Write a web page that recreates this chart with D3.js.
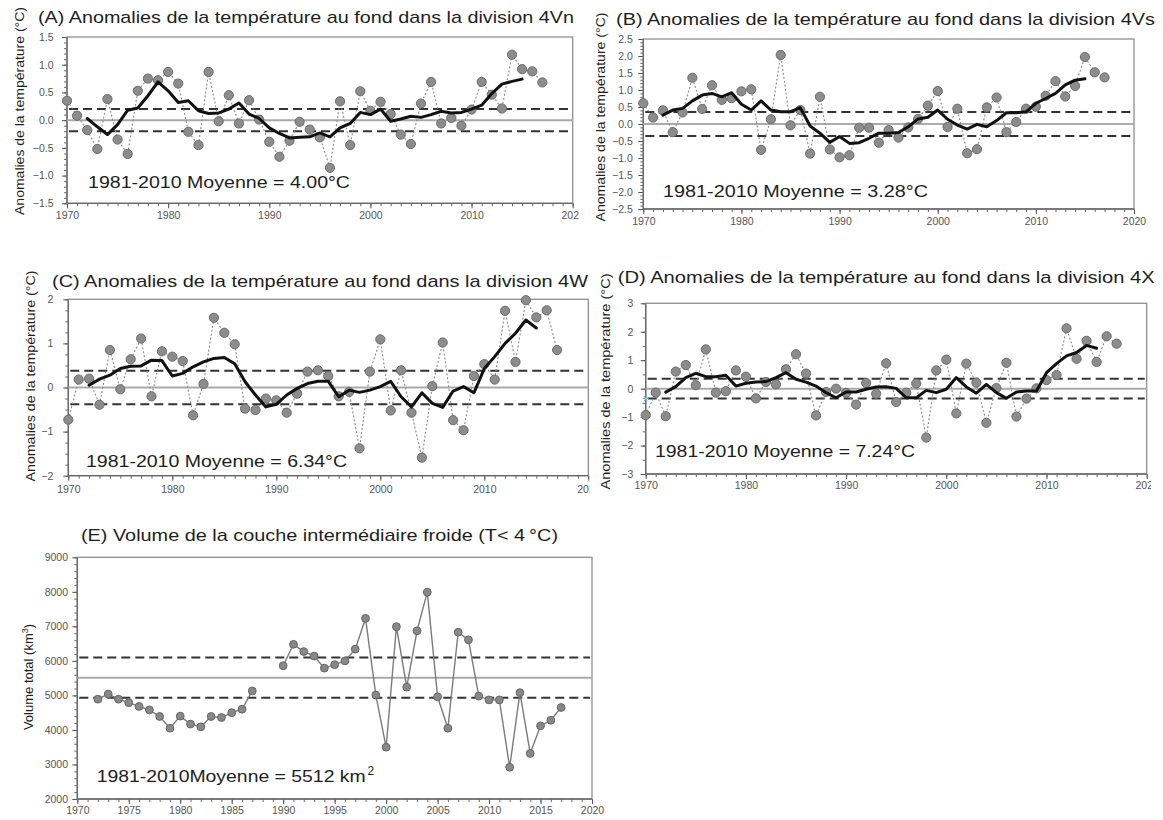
<!DOCTYPE html>
<html><head><meta charset="utf-8">
<script src="https://cdn.jsdelivr.net/npm/d3@7"></script>
<style>body{margin:0;background:#fff;} svg{display:block;font-family:"Liberation Sans",Arial,sans-serif;}</style>
</head><body><svg id="c" width="1163" height="820"></svg>
<script>
// ---------- DATA ----------
const years = [1970,1971,1972,1973,1974,1975,1976,1977,1978,1979,1980,1981,1982,1983,1984,1985,1986,1987,1988,1989,1990,1991,1992,1993,1994,1995,1996,1997,1998,1999,2000,2001,2002,2003,2004,2005,2006,2007,2008,2009,2010,2011,2012,2013,2014,2015,2016,2017];
const smoothYears = [1972,1973,1974,1975,1976,1977,1978,1979,1980,1981,1982,1983,1984,1985,1986,1987,1988,1989,1990,1991,1992,1993,1994,1995,1996,1997,1998,1999,2000,2001,2002,2003,2004,2005,2006,2007,2008,2009,2010,2011,2012,2013,2014,2015];

const anomA = [0.35,0.08,-0.18,-0.52,0.38,-0.35,-0.61,0.53,0.75,0.72, 0.87,0.66,-0.21,-0.45,0.87,-0.02,0.45,-0.06,0.36,0.01, -0.39,-0.66,-0.37,-0.03,-0.17,-0.31,-0.86,0.34,-0.45,0.52, 0.17,0.33,0.11,-0.26,-0.43,0.30,0.69,-0.06,0.04,-0.10, 0.19,0.69,0.46,0.21,1.18,0.92,0.88,0.68];
const smoothA = [0.03,-0.12,-0.26,-0.08,0.18,0.22,0.44,0.69,0.53,0.32, 0.35,0.17,0.12,0.13,0.20,0.31,0.11,0.03,-0.14,-0.24, -0.32,-0.31,-0.30,-0.23,-0.30,-0.14,-0.06,0.14,0.10,0.20, -0.02,0.02,0.07,0.05,0.10,0.16,0.13,0.14,0.20,0.27, 0.48,0.65,0.70,0.74];

const anomB = [0.61,0.19,0.40,-0.24,0.34,1.36,0.44,1.14,0.71,0.76, 0.96,1.02,-0.76,0.14,2.03,-0.04,0.41,-0.87,0.80,-0.75, -0.98,-0.92,-0.11,-0.11,-0.55,-0.18,-0.40,-0.10,0.15,0.54, 0.97,-0.09,0.45,-0.86,-0.74,0.49,0.78,-0.24,0.06,0.45, 0.51,0.83,1.26,0.81,1.12,1.97,1.52,1.37];
const smoothB = [0.26,0.41,0.46,0.68,0.85,0.90,0.80,0.92,0.58,0.41, 0.68,0.41,0.36,0.36,0.48,-0.06,-0.27,-0.54,-0.37,-0.57, -0.55,-0.42,-0.27,-0.27,-0.25,-0.08,0.15,0.20,0.41,0.14, -0.03,-0.15,-0.01,-0.08,0.10,0.33,0.33,0.36,0.61,0.75, 0.90,1.15,1.29,1.33];

const anomC = [-0.73,0.18,0.20,-0.39,0.85,-0.04,0.64,1.11,-0.20,0.82, 0.70,0.60,-0.63,0.08,1.58,1.24,0.98,-0.48,-0.51,-0.25, -0.29,-0.57,-0.14,0.36,0.39,0.26,-0.20,-0.10,-1.38,0.36, 1.09,-0.52,0.39,-0.57,-1.59,0.03,1.02,-0.74,-0.97,0.26, 0.53,0.18,1.74,0.58,1.98,1.59,1.75,0.85];
const smoothC = [0.05,0.19,0.28,0.43,0.48,0.49,0.62,0.61,0.26,0.32, 0.47,0.58,0.66,0.68,0.54,0.13,-0.17,-0.44,-0.38,-0.17, -0.02,0.09,0.14,0.14,-0.21,-0.06,-0.11,-0.06,0.02,0.14, -0.21,-0.44,-0.12,-0.36,-0.45,-0.08,0.02,-0.12,0.43,0.70, 1.00,1.23,1.53,1.35];

const anomD = [-0.93,-0.14,-0.97,0.60,0.83,0.12,1.38,-0.14,-0.09,0.64, 0.42,-0.34,0.23,0.15,0.68,1.21,0.53,-0.94,-0.12,0.00, -0.15,-0.56,0.20,-0.18,0.89,-0.47,-0.14,0.18,-1.72,0.64, 1.02,-0.87,0.88,0.21,-1.20,0.02,0.91,-0.98,-0.35,0.01, 0.30,0.48,2.12,1.05,1.68,0.94,1.84,1.58];
const smoothD = [-0.12,0.07,0.39,0.54,0.42,0.42,0.47,0.09,0.19,0.23, 0.25,0.39,0.56,0.33,0.23,0.09,-0.14,-0.32,-0.12,-0.12, -0.02,0.06,0.07,0.01,-0.32,-0.32,-0.06,-0.14,-0.02,0.39, 0.06,-0.16,0.15,-0.14,-0.34,-0.12,-0.08,-0.08,0.56,0.88, 1.15,1.27,1.52,1.42];

// CIL volume (km3), null = no data
const volE = [null,null,4890,5040,4890,4790,4680,4580,4390,4050, 4400,4170,4090,4390,4360,4500,4600,5130,null,null, 5860,6480,6270,6140,5790,5890,6000,6340,7230,5010, 3500,6990,5240,6870,7990,4960,4050,6830,6610,4980, 4870,4870,2920,5080,3320,4120,4280,4650];

// bands (±0.5 SD) and means
const bandA = [-0.2, 0.2], bandB = [-0.35, 0.35], bandC = [-0.38, 0.38], bandD = [-0.35, 0.35];
const meanE = 5512, bandE = [4935, 6095];

// tick labels
const xTicksDecade = [1970,1980,1990,2000,2010,2020];
const xTicksE = [1970,1975,1980,1985,1990,1995,2000,2005,2010,2015,2020];
const yTicksA = [-1.5,-1.0,-0.5,0.0,0.5,1.0,1.5];
const yTicksB = [-2.5,-2.0,-1.5,-1.0,-0.5,0.0,0.5,1.0,1.5,2.0,2.5];
const yTicksC = [-2,-1,0,1,2];
const yTicksD = [-3,-2,-1,0,1,2,3];
const yTicksE = [2000,3000,4000,5000,6000,7000,8000,9000];

const titles = {
  A: "(A) Anomalies de la température au fond dans la division 4Vn",
  B: "(B) Anomalies de la température au fond dans la division 4Vs",
  C: "(C) Anomalies de la température au fond dans la division 4W",
  D: "(D)  Anomalies de la température au fond dans la division 4X",
  E: "(E) Volume de la couche intermédiaire froide (T< 4\u202F°C)"
};
const meanLabels = {
  A: "1981-2010 Moyenne = 4.00°C",
  B: "1981-2010  Moyenne = 3.28°C",
  C: "1981-2010 Moyenne = 6.34°C",
  D: "1981-2010 Moyenne = 7.24°C",
  E: "1981-2010Moyenne = 5512 km"
};
const yTitle = "Anomalies de la température (°C)";

// ---------- DRAW ----------
const svg = d3.select('#c');
const defs = svg.append('defs');
const TXT = '#1e1e1e', TICK = '#555';

function panel(c){
  const g = svg.append('g');
  if (c.clipX){
    defs.append('clipPath').attr('id','clip'+c.id).append('rect')
      .attr('x',0).attr('y',0).attr('width',c.clipX).attr('height',820);
    g.attr('clip-path',`url(#clip${c.id})`);
  }
  const x = d3.scaleLinear().domain([1970,2020]).range([c.l,c.r]);
  const y = d3.scaleLinear().domain(c.yDomain).range([c.b,c.t]);

  // minor ticks
  const yMinor = d3.range(c.yDomain[0], c.yDomain[1]+1e-9, c.yMinor);
  g.append('g').attr('transform',`translate(${c.l},0)`)
    .call(d3.axisLeft(y).tickValues(yMinor).tickSize(3).tickFormat(''))
    .call(s=>{s.select('.domain').remove(); s.selectAll('line').attr('stroke','#666');});
  const xMinor = d3.range(1970, 2021, 1);
  g.append('g').attr('transform',`translate(0,${c.b})`)
    .call(d3.axisBottom(x).tickValues(xMinor).tickSize(3).tickFormat(''))
    .call(s=>{s.select('.domain').remove(); s.selectAll('line').attr('stroke','#666');});

  // major axes
  const fs = 10.5;
  g.append('g').attr('transform',`translate(${c.l},0)`)
    .call(d3.axisLeft(y).tickValues(c.yTicks).tickSize(5).tickPadding(c.yGap-5).tickFormat(c.yFmt))
    .call(s=>{s.select('.domain').remove(); s.selectAll('line').attr('stroke','#555');
      s.selectAll('text').attr('fill',TICK).attr('font-size',fs).attr('font-family','Liberation Sans, Arial, sans-serif');});
  g.append('g').attr('transform',`translate(0,${c.b})`)
    .call(d3.axisBottom(x).tickValues(c.xTicks).tickSize(5).tickPadding(c.xOff-5-0.71*fs).tickFormat(d3.format('d')))
    .call(s=>{s.select('.domain').remove(); s.selectAll('line').attr('stroke','#555');
      s.selectAll('text').attr('fill',TICK).attr('font-size',fs).attr('font-family','Liberation Sans, Arial, sans-serif');});

  // frame
  g.append('rect').attr('x',c.l).attr('y',c.t).attr('width',c.r-c.l).attr('height',c.b-c.t)
    .attr('fill','none').attr('stroke','#8f8f8f').attr('stroke-width',1.3);
  g.append('line').attr('x1',c.l).attr('x2',c.l).attr('y1',c.t).attr('y2',c.b).attr('stroke','#666').attr('stroke-width',1.3);
  g.append('line').attr('x1',c.l).attr('x2',c.r).attr('y1',c.b).attr('y2',c.b).attr('stroke','#666').attr('stroke-width',1.3);

  // reference line
  g.append('line').attr('x1',c.l).attr('x2',c.r).attr('y1',y(c.ref)).attr('y2',y(c.ref))
    .attr('stroke','#aaaaaa').attr('stroke-width',2);
  c.band.forEach(v=>{
    g.append('line').attr('x1',c.l+2).attr('x2',c.r-2).attr('y1',y(v)).attr('y2',y(v))
      .attr('stroke','#333').attr('stroke-width',2).attr('stroke-dasharray','9,5');
  });

  // series
  const pts = years.map((yr,i)=>({yr, v:c.values[i]}));
  const line = d3.line().defined(d=>d.v!==null).x(d=>x(d.yr)).y(d=>y(d.v));
  if (c.kind === 'anom'){
    g.append('path').attr('d',line(pts)).attr('fill','none').attr('stroke','#8a8a8a')
      .attr('stroke-width',1.1).attr('stroke-dasharray','2,2');
    g.selectAll('circle.p').data(pts).join('circle').attr('cx',d=>x(d.yr)).attr('cy',d=>y(d.v))
      .attr('r',4.6).attr('fill','#8c8c8c').attr('stroke','#6b6b6b').attr('stroke-width',1);
    const sp = smoothYears.map((yr,i)=>({yr, v:c.smooth[i]}));
    g.append('path').attr('d',line(sp)).attr('fill','none').attr('stroke','#111')
      .attr('stroke-width',3).attr('stroke-linejoin','round').attr('stroke-linecap','round');
  } else {
    g.append('path').attr('d',line(pts)).attr('fill','none').attr('stroke','#7a7a7a').attr('stroke-width',1.4);
    g.selectAll('circle.p').data(pts.filter(d=>d.v!==null)).join('circle').attr('cx',d=>x(d.yr)).attr('cy',d=>y(d.v))
      .attr('r',3.9).attr('fill','#888').attr('stroke','#666').attr('stroke-width',1);
  }

  // texts (unclipped)
  const t = svg.append('g');
  t.append('text').attr('x',c.title[0]).attr('y',c.title[1]).attr('font-size',17).attr('fill',TXT)
    .attr('textLength',c.title[2]).attr('lengthAdjust','spacingAndGlyphs').text(titles[c.id]);
  t.append('text').attr('x',c.mean[0]).attr('y',c.mean[1]).attr('font-size',17).attr('fill',TXT)
    .attr('textLength',c.mean[2]).attr('lengthAdjust','spacingAndGlyphs').text(meanLabels[c.id]);
  if (c.id !== 'E'){
    t.append('text').attr('transform',`translate(${c.ylab[0]},${c.ylab[1]}) rotate(-90)`)
      .attr('text-anchor','middle').attr('font-size',13.5).attr('fill',TXT)
      .attr('textLength',c.ylab[2]).attr('lengthAdjust','spacingAndGlyphs').text(yTitle);
  }
  return {g,t,x,y};
}

const pA = panel({id:'A', kind:'anom', l:67, r:572.7, t:37, b:203.3, yDomain:[-1.5,1.5], yTicks:yTicksA, yMinor:0.1,
  yFmt:d3.format('.1f'), yGap:13.5, xTicks:xTicksDecade, xOff:16, values:anomA, smooth:smoothA, ref:0, band:bandA,
  title:[38,23,536], mean:[88,188,262], ylab:[23.5,111,208], clipX:579});
const pB = panel({id:'B', kind:'anom', l:643.3, r:1134, t:39, b:209, yDomain:[-2.5,2.5], yTicks:yTicksB, yMinor:0.1,
  yFmt:d3.format('.1f'), yGap:10.5, xTicks:xTicksDecade, xOff:16, values:anomB, smooth:smoothB, ref:0, band:bandB,
  title:[616,25,539], mean:[663,197,265], ylab:[605,117,209]});
const pC = panel({id:'C', kind:'anom', l:68.3, r:588.3, t:299.3, b:475.7, yDomain:[-2,2], yTicks:yTicksC, yMinor:0.25,
  yFmt:d3.format('d'), yGap:15, xTicks:xTicksDecade, xOff:17.5, values:anomC, smooth:smoothC, ref:0, band:bandC,
  title:[52,286.5,536], mean:[86,466.5,261], ylab:[35,376,211], clipX:589.5});
const pD = panel({id:'D', kind:'anom', l:645.7, r:1146.7, t:303.3, b:474, yDomain:[-3,3], yTicks:yTicksD, yMinor:0.5,
  yFmt:d3.format('d'), yGap:12.4, xTicks:xTicksDecade, xOff:14.5, values:anomD, smooth:smoothD, ref:0, band:bandD,
  title:[617.7,283,537], mean:[655,457,260], ylab:[610,381.5,216], clipX:1151});
const pE = panel({id:'E', kind:'vol', l:77.3, r:592, t:557.3, b:799, yDomain:[2000,9000], yTicks:yTicksE, yMinor:200,
  yFmt:d3.format('d'), yGap:9.3, xTicks:xTicksE, xOff:15, values:volE, ref:meanE, band:bandE,
  title:[81,541,477], mean:[96.7,781.5,269]});

// extra pieces of E text: superscripts
pE.t.append('text').attr('x',367.5).attr('y',774.5).attr('font-size',12).attr('fill',TXT).text('2');
const yl = pE.t.append('text').attr('transform','translate(33,677) rotate(-90)').attr('text-anchor','middle')
  .attr('font-size',13).attr('fill',TXT);
yl.append('tspan').text('Volume total (km');
yl.append('tspan').attr('font-size',9).attr('dy',-5).text('3');
yl.append('tspan').attr('dy',5).text(')');

// small cyan marker at the start of panel D
const mx = pD.x(1970), my = pD.y(bandD[0]);
[0,60,120].forEach(a=>{
  const r = 3, rad = a*Math.PI/180;
  pD.g.append('line').attr('x1',mx-r*Math.cos(rad)).attr('y1',my-r*Math.sin(rad))
    .attr('x2',mx+r*Math.cos(rad)).attr('y2',my+r*Math.sin(rad)).attr('stroke','#6cc4e0').attr('stroke-width',1);
});
</script></body></html>
